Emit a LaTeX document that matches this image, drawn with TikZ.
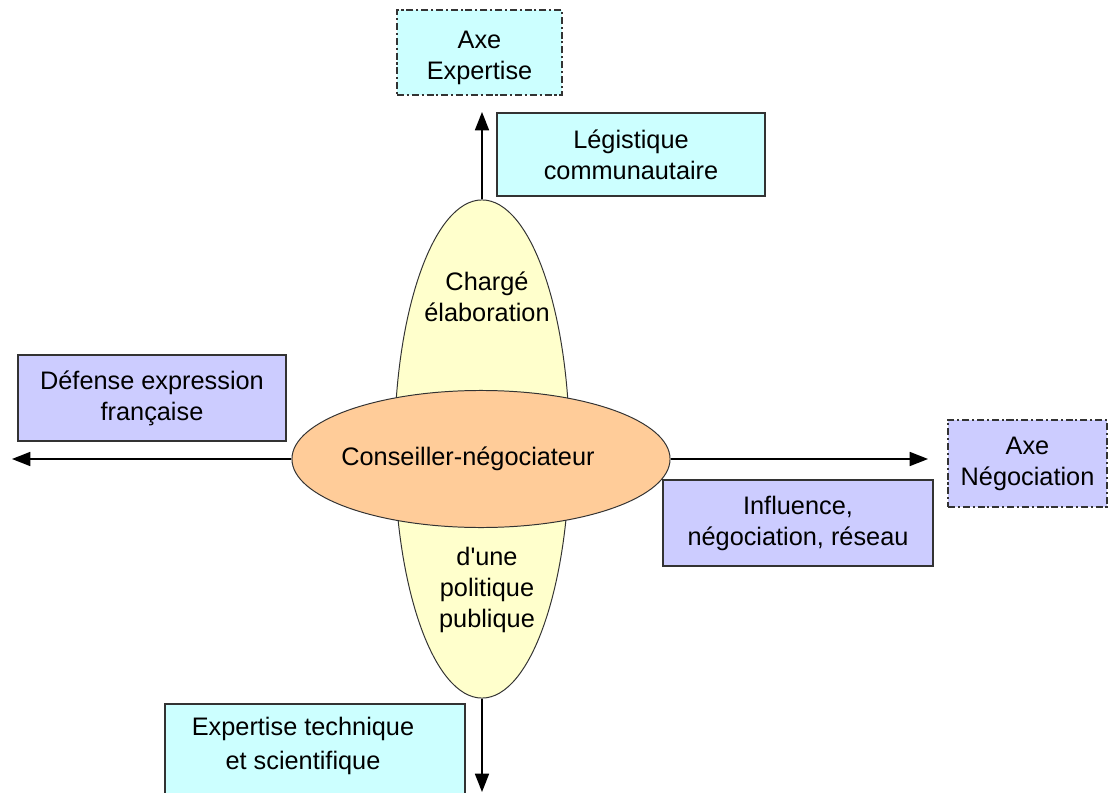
\documentclass[tikz,border=0pt]{standalone}
\usepackage{fontspec}
\setmainfont{Liberation Sans}
\usetikzlibrary{arrows.meta,shapes.geometric}
\definecolor{cyanbox}{HTML}{CCFFFF}
\definecolor{lilacbox}{HTML}{CCCCFF}
\definecolor{lens}{HTML}{FFFFCC}
\definecolor{core}{HTML}{FFCC99}
\definecolor{edge}{HTML}{333333}
\tikzset{
  txt/.style={font=\fontsize{18}{22}\selectfont, align=center, text=black},
  box/.style={txt, draw=edge, line width=1pt, rectangle, inner sep=2pt},
  skill/.style={box, fill=cyanbox},
  role/.style={box, fill=lilacbox},
  % the two axis names: same boxes, dash-dot border
  axis/.style={box, dash pattern=on 5pt off 2pt on 1.5pt off 2pt},
  blob/.style={ellipse, draw=edge, line width=0.7pt, inner sep=0pt},
  axe/.style={line width=1pt, -{Triangle[length=13pt,width=10pt]}},
}

\begin{document}
\begin{tikzpicture}[x=0.025cm, y=-0.025cm]
  \useasboundingbox (0,0) rectangle (1109,793);

  % --- the two ellipses in the middle ------------------------------------
  \node[blob, fill=lens, minimum width=4.375cm, minimum height=12.45cm]
    (fuseau) at (482,449) {};
  \node[txt] (charge) at (487,297) {Chargé\\élaboration};
  \node[txt] (politique) at (487,590) {d\textquotesingle une\\politique\\publique};
  \node[blob, fill=core, minimum width=9.45cm, minimum height=3.425cm]
    (conseiller) at (481,459) {};
  \node[txt] (titre) at (468,459) {Conseiller-négociateur};

  % --- axes ----------------------------------------------------------------
  \coordinate (haut) at (482,112);
  \coordinate (bas) at (482,792);
  \coordinate (gauche) at (12,459);
  \coordinate (droite) at (928,459);
  \draw[axe] (fuseau.north) -- (haut);
  \draw[axe] (fuseau.south) -- (bas);
  \draw[axe] (conseiller.west) -- (gauche);
  \draw[axe] (conseiller.east) -- (droite);

  % --- boxes ---------------------------------------------------------------
  \node[axis, fill=cyanbox, minimum width=4.125cm, minimum height=2.125cm]
    (expertise) at (479.5,52.5) {};
  \node[txt] (expertisetexte) at (479.5,58) {Axe\\Expertise};
  \node[skill, minimum width=6.7cm, minimum height=2.075cm]
    (legistique) at (631,154.5) {Légistique\\communautaire};
  \node[role, minimum width=6.7cm, minimum height=2.15cm]
    (defense) at (152,398) {Défense expression\\française};
  \node[axis, fill=lilacbox, minimum width=3.975cm, minimum height=2.175cm]
    (negociation) at (1027.5,463.5) {Axe\\Négociation};
  \node[role, minimum width=6.75cm, minimum height=2.15cm]
    (influence) at (798,523) {Influence,\\négociation, réseau};
  % this one runs off the bottom edge, so its text sits apart
  \node[skill, minimum width=7.5cm, minimum height=2.6cm]
    (technique) at (315,756) {};
  \node[txt, font=\fontsize{18}{24}\selectfont] (techniquetexte) at (303,746)
    {Expertise technique\\et scientifique};

\end{tikzpicture}
\end{document}
